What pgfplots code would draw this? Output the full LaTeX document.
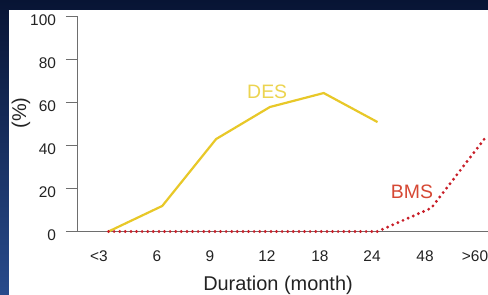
\documentclass[border=0pt]{standalone}
\usepackage{pgfplots}
\pgfplotsset{compat=1.18}
\usepackage{fontspec}
\setmainfont{Liberation Sans}
\definecolor{bgtop}{RGB}{8,20,52}
\definecolor{bgbot}{RGB}{40,75,140}
\definecolor{desc}{RGB}{232,200,40}
\definecolor{desl}{RGB}{236,212,80}
\definecolor{bmsc}{RGB}{200,30,40}
\definecolor{bmsl}{RGB}{214,72,52}
\definecolor{axisgray}{RGB}{110,110,110}
\definecolor{ticktext}{RGB}{35,35,35}
\begin{document}
\begin{tikzpicture}
\useasboundingbox (0,0) rectangle (488bp,295bp);
\shade[top color=bgtop, bottom color=bgbot] (0,0) rectangle (488bp,295bp);
\fill[white] (9bp,0) rectangle (488bp,285bp);
\begin{axis}[
  at={(77bp,63.5bp)}, anchor=south west,
  scale only axis, width=411bp, height=215bp,
  xmin=-0.5856, xmax=7.054, ymin=0, ymax=100,
  axis x line=bottom, axis y line=left,
  axis line style={draw=axisgray, line width=0.8pt, -},
  xtick={-0.177,0.902,1.887,2.946,3.931,4.898,5.883,6.813},
  xticklabels={<3,6,9,12,18,24,48,>60},
  ytick={0,20,...,100},
  x tick style={draw=none},
  y tick style={draw=axisgray, line width=0.8pt},
  tick align=outside, major tick length=11bp,
  tick label style={font=\fontsize{15.5}{18}\selectfont, text=ticktext},
  xticklabel style={yshift=-5bp},
  yticklabel style={xshift=-6.5bp, yshift=-4bp},
  /pgf/number format/assume math mode=true,
  clip=false,
]
\addplot[desc, line width=2.2bp] coordinates {(0,0)(1,11.9)(2,43)(3,57.9)(4,64.4)(5,50.9)};
\addplot[bmsc, line width=3.2bp, line cap=round, dash pattern=on 0pt off 5.6bp] coordinates {(0,0)(1,0)(2,0)(3,0)(4,0)(5,0)(6,10.9)(7,43.5)};
\node[text=desl, font=\fontsize{19.5}{22}\selectfont] at (axis cs:2.95,64.9) {DES};
\node[text=bmsl, font=\fontsize{19.5}{22}\selectfont] at (axis cs:5.64,18.4) {BMS};
\end{axis}
\node[rotate=90, text=ticktext, font=\fontsize{20}{22}\selectfont] at (21bp,182bp) {(\%)};
\node[text=ticktext, font=\fontsize{20}{22}\selectfont] at (278bp,9.5bp) {Duration (month)};
\end{tikzpicture}
\end{document}
